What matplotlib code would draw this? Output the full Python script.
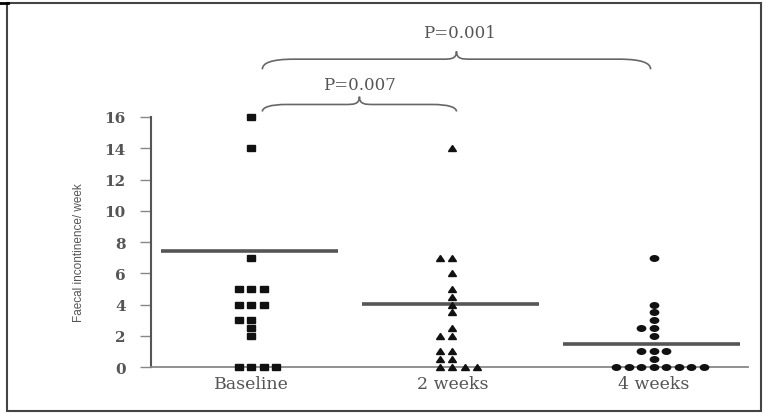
import numpy as np
import matplotlib
matplotlib.use("Agg")
import matplotlib.pyplot as plt
from matplotlib.path import Path
from matplotlib.patches import PathPatch, Rectangle
from matplotlib.markers import MarkerStyle
from matplotlib.transforms import Affine2D
from collections import Counter

# data
groups = ["Baseline", "2 weeks", "4 weeks"]
baseline = [16, 14, 7, 5, 5, 5, 4, 4, 4, 3, 3, 2.5, 2, 0, 0, 0, 0]
week2 = [14, 7, 7, 6, 5, 4.5, 4, 3.5, 2.5, 2, 2, 1, 1, 0.5, 0.5, 0, 0, 0, 0]
week4 = [7, 4, 3.5, 3, 2.5, 2.5, 2, 1, 1, 1, 0.5, 0, 0, 0, 0, 0, 0, 0, 0]
group_lines = [7.4, 4.05, 1.45]
yticks = [0, 2, 4, 6, 8, 10, 12, 14, 16]
p_labels = ["P=0.007", "P=0.001"]

GRAY = "#555555"


def swarm(values, xc, step=0.062):
    # stack repeated values side by side: 0, -1, +1, +2, -2, ...
    order = [0, -1, 1, 2, -2, 3, -3, 4, -4]
    xs, ys = [], []
    for v, n in Counter(values).items():
        for k in range(n):
            xs.append(xc + order[k] * step)
            ys.append(v)
    return xs, ys


def brace(ax, x0, x1, yf, dh, up, curl=0.12, cusp=0.07):
    xm = (x0 + x1) / 2
    yb = yf - dh
    yp = yf + up
    verts = [
        (x0, yb),
        (x0, yb + 0.6 * dh), (x0 + 0.04, yf), (x0 + curl, yf),
        (xm - cusp, yf),
        (xm - 0.03, yf), (xm, yf), (xm, yp),
        (xm, yf), (xm + 0.03, yf), (xm + cusp, yf),
        (x1 - curl, yf),
        (x1 - 0.04, yf), (x1, yb + 0.6 * dh), (x1, yb),
    ]
    codes = [Path.MOVETO] + [Path.CURVE4] * 3 + [Path.LINETO] + [Path.CURVE4] * 6 \
        + [Path.LINETO] + [Path.CURVE4] * 3
    ax.add_patch(PathPatch(Path(verts, codes), fill=False, edgecolor="#666666",
                           lw=1.2, clip_on=False))
    return xm, yp


fig = plt.figure(figsize=(7.65, 4.14), dpi=100)
ax = fig.add_axes([0.197, 0.111, 0.781, 0.604])

wide = Affine2D().scale(1.5, 1.0)
markers = [MarkerStyle("s", transform=wide), MarkerStyle("^", transform=wide),
           MarkerStyle("o", transform=wide)]
sizes = [3.8, 4.2, 4.0]

for i, vals in enumerate([baseline, week2, week4]):
    xc = i + 1
    xs, ys = swarm(vals, xc)
    ax.plot(xs, ys, linestyle="none", marker=markers[i], ms=sizes[i],
            color="#111111", clip_on=False, zorder=3)
    ax.plot([xc - 0.45, xc + 0.43], [group_lines[i]] * 2, color=GRAY, lw=2.6,
            solid_capstyle="butt", zorder=2)

ax.set_xlim(0.5, 3.47)
ax.set_ylim(0, 16)
ax.set_yticks(yticks)
ax.set_xticks([1, 2, 3])
ax.set_xticklabels(groups, family="DejaVu Serif", fontsize=12.5, color=GRAY)
ax.set_yticklabels([str(t) for t in yticks], family="DejaVu Serif",
                   fontweight="bold", fontsize=11, color=GRAY)
ax.tick_params(axis="y", length=8, width=1, color="#888888", pad=10)
ax.tick_params(axis="x", length=0, pad=6)
for s in ["top", "right"]:
    ax.spines[s].set_visible(False)
ax.spines["left"].set_color(GRAY)
ax.spines["left"].set_linewidth(1.5)
ax.spines["bottom"].set_color("#888888")
ax.spines["bottom"].set_linewidth(1.3)
ax.set_ylabel("Faecal incontinence/ week", family="Liberation Sans",
              fontsize=8.5, color=GRAY)
ax.yaxis.set_label_coords(-0.11, 0.46)

# significance braces
xm, yp = brace(ax, 1.055, 2.02, 16.8, 0.45, 0.5)
ax.text(1.54, 17.55, p_labels[0], ha="center", va="bottom",
        family="DejaVu Serif", fontsize=12, color=GRAY)
xm, yp = brace(ax, 1.055, 2.985, 19.7, 0.65, 0.5, curl=0.16)
ax.text(2.035, 20.85, p_labels[1], ha="center", va="bottom",
        family="DejaVu Serif", fontsize=12, color=GRAY)

# outer frame of the figure
fig.add_artist(Rectangle((0.009, 0.005), 0.986, 0.985, transform=fig.transFigure,
                         fill=False, edgecolor="#444444", lw=1.5))
fig.add_artist(plt.Line2D([0, 0.01], [0.99, 0.99], transform=fig.transFigure,
                          color="black", lw=2))

fig.savefig("out.png", dpi=100)
